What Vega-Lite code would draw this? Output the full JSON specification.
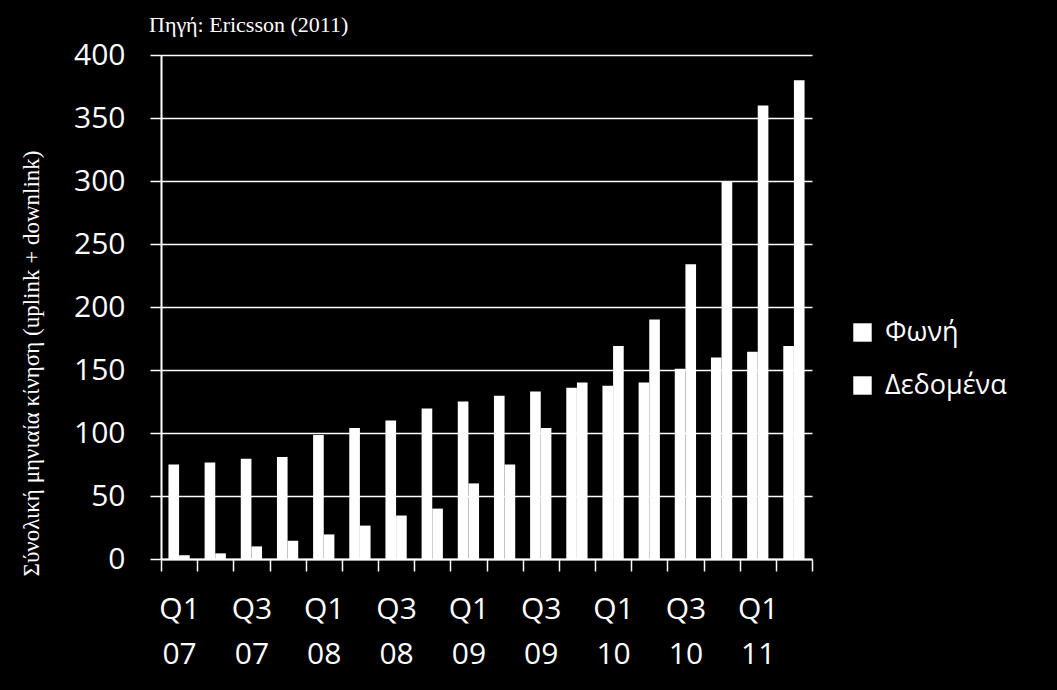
{
  "$schema": "https://vega.github.io/schema/vega-lite/v6.json",
  "autosize": {"type": "none"},
  "width": 651,
  "height": 504,
  "padding": {"left": 161, "top": 55, "right": 245, "bottom": 131},
  "background": "#000000",
  "title": {
    "text": "Πηγή: Ericsson (2011)",
    "anchor": "start",
    "frame": "group",
    "font": "Liberation Serif",
    "fontSize": 22,
    "fontWeight": "normal",
    "color": "#ffffff",
    "baseline": "alphabetic",
    "offset": 6,
    "dx": -12,
    "dy": 20
  },
  "data": {
    "values": [
      {"q": "Q1 07", "series": "Φωνή", "v": 75},
      {"q": "Q1 07", "series": "Δεδομένα", "v": 3},
      {"q": "Q2 07", "series": "Φωνή", "v": 76.5},
      {"q": "Q2 07", "series": "Δεδομένα", "v": 4.5},
      {"q": "Q3 07", "series": "Φωνή", "v": 79.5},
      {"q": "Q3 07", "series": "Δεδομένα", "v": 10},
      {"q": "Q4 07", "series": "Φωνή", "v": 81},
      {"q": "Q4 07", "series": "Δεδομένα", "v": 14.5},
      {"q": "Q1 08", "series": "Φωνή", "v": 98.5},
      {"q": "Q1 08", "series": "Δεδομένα", "v": 19.5},
      {"q": "Q2 08", "series": "Φωνή", "v": 104},
      {"q": "Q2 08", "series": "Δεδομένα", "v": 26.5},
      {"q": "Q3 08", "series": "Φωνή", "v": 110},
      {"q": "Q3 08", "series": "Δεδομένα", "v": 34.5},
      {"q": "Q4 08", "series": "Φωνή", "v": 119.5},
      {"q": "Q4 08", "series": "Δεδομένα", "v": 40},
      {"q": "Q1 09", "series": "Φωνή", "v": 125},
      {"q": "Q1 09", "series": "Δεδομένα", "v": 60},
      {"q": "Q2 09", "series": "Φωνή", "v": 129.5},
      {"q": "Q2 09", "series": "Δεδομένα", "v": 75},
      {"q": "Q3 09", "series": "Φωνή", "v": 133},
      {"q": "Q3 09", "series": "Δεδομένα", "v": 104},
      {"q": "Q4 09", "series": "Φωνή", "v": 136},
      {"q": "Q4 09", "series": "Δεδομένα", "v": 140},
      {"q": "Q1 10", "series": "Φωνή", "v": 137.5},
      {"q": "Q1 10", "series": "Δεδομένα", "v": 169},
      {"q": "Q2 10", "series": "Φωνή", "v": 140},
      {"q": "Q2 10", "series": "Δεδομένα", "v": 190},
      {"q": "Q3 10", "series": "Φωνή", "v": 151},
      {"q": "Q3 10", "series": "Δεδομένα", "v": 234},
      {"q": "Q4 10", "series": "Φωνή", "v": 160},
      {"q": "Q4 10", "series": "Δεδομένα", "v": 300},
      {"q": "Q1 11", "series": "Φωνή", "v": 164.5},
      {"q": "Q1 11", "series": "Δεδομένα", "v": 360},
      {"q": "Q2 11", "series": "Φωνή", "v": 169},
      {"q": "Q2 11", "series": "Δεδομένα", "v": 380}
    ]
  },
  "mark": {"type": "bar"},
  "encoding": {
    "x": {
      "field": "q",
      "type": "nominal",
      "sort": null,
      "scale": {"paddingInner": 0, "paddingOuter": 0},
      "axis": {
        "title": null,
        "labelAngle": 0,
        "tickBand": "extent",
        "labelExpr": "!isString(datum.value) || test(/Q[24]/, datum.value) ? '' : split(datum.value, ' ')",
        "labelFont": "Open Sans",
        "labelFontSize": 30,
        "labelColor": "#ffffff",
        "labelLineHeight": 45,
        "labelPadding": 23,
        "labelBaseline": "top",
        "tickSize": 12,
        "tickColor": "#ffffff",
        "tickWidth": 1.5,
        "domainColor": "#ffffff",
        "domainWidth": 2,
        "labelOverlap": false,
        "grid": false
      }
    },
    "xOffset": {
      "field": "series",
      "type": "nominal",
      "sort": ["Φωνή", "Δεδομένα"],
      "scale": {"paddingOuter": 0.7, "paddingInner": 0}
    },
    "y": {
      "field": "v",
      "type": "quantitative",
      "scale": {"domain": [0, 400], "nice": false},
      "axis": {
        "title": "Σύνολική μηνιαία κίνηση (uplink + downlink)",
        "titleFont": "Liberation Serif",
        "titleFontSize": 23,
        "titleFontWeight": "normal",
        "titleColor": "#ffffff",
        "titleAngle": -90,
        "titleX": -130,
        "titleY": 308,
        "titleAlign": "center",
        "titleBaseline": "middle",
        "values": [0, 50, 100, 150, 200, 250, 300, 350, 400],
        "labelFont": "Open Sans",
        "labelFontSize": 30,
        "labelColor": "#ffffff",
        "labelPadding": 25,
        "tickSize": 11,
        "tickColor": "#ffffff",
        "tickWidth": 1.5,
        "domainColor": "#ffffff",
        "domainWidth": 2,
        "grid": true,
        "gridColor": "#ffffff",
        "gridWidth": 1.5
      }
    },
    "color": {
      "field": "series",
      "type": "nominal",
      "sort": ["Φωνή", "Δεδομένα"],
      "scale": {"range": ["#ffffff", "#ffffff"]},
      "legend": {
        "title": null,
        "orient": "none",
        "legendX": 688,
        "legendY": 264,
        "symbolType": "square",
        "symbolSize": 340,
        "symbolStrokeWidth": 0,
        "symbolFillColor": "#ffffff",
        "labelFont": "Open Sans",
        "labelFontSize": 27,
        "labelColor": "#ffffff",
        "labelOffset": 9,
        "rowPadding": 25
      }
    }
  },
  "config": {
    "view": {"stroke": null}
  }
}
